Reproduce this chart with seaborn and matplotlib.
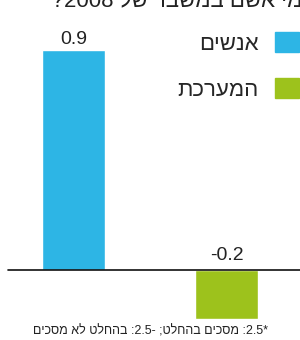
import re

import matplotlib
matplotlib.use("Agg")
import matplotlib.patches as mpatches
import matplotlib.pyplot as plt
import pandas as pd
import seaborn as sns

# data (Hebrew kept in logical order, flipped for display by rtl())
categories = ["אנשים", "המערכת"]
values = [0.9, -0.2]
colors = ["#2db5e5", "#9dc21c"]
title_text = "מי אשם במשבר של 2008?*"
footnote = "*2.5: מסכים בהחלט; -2.5: בהחלט לא מסכים"


def rtl(text: str) -> str:
    # matplotlib has no bidi support: reverse the line, keep numbers readable
    flipped = text[::-1]
    return re.sub(r"[0-9]+(?:\.[0-9]+)?", lambda m: m.group()[::-1], flipped)


def main() -> None:
    sns.set_theme(style="white")
    plt.rcParams["font.family"] = ["Liberation Sans", "DejaVu Sans"]

    labels = [rtl(c) for c in categories]
    df = pd.DataFrame({"group": labels, "value": values})

    fig = plt.figure(figsize=(3.0, 3.4), dpi=100)
    ax = fig.add_axes([0, 0, 1, 1])
    sns.barplot(data=df, x="group", y="value", hue="group", palette=colors,
                width=0.41, legend=False, ax=ax, saturation=1)

    ax.set_xlim(-0.48, 1.48)
    ax.set_ylim(-0.286, 1.105)
    ax.axis("off")
    ax.axhline(0, xmin=8 / 300, xmax=1, color="#111111", lw=1.2)

    for i, v in enumerate(values):
        y, off = (v, 4.5) if v > 0 else (0, 7)
        ax.annotate(f"{v:.1f}", (i, y), xytext=(0, off), textcoords="offset points",
                    ha="center", va="baseline", fontsize=14, color="#222222")

    handles = [mpatches.Patch(color=c, label=l) for c, l in zip(colors, labels)]
    ax.legend(handles=handles, loc="upper right", bbox_to_anchor=(0.997, 0.907),
              frameon=False, markerfirst=False, fontsize=16, borderpad=0,
              handlelength=1.08, handleheight=1.05, handletextpad=0.75,
              labelspacing=1.05, borderaxespad=0)

    fig.text(43 / 300, 1 - 7 / 340, rtl(title_text), ha="left", va="baseline",
             fontsize=16, color="#222222")
    fig.text(0.503, 1 - 335 / 340, rtl(footnote), ha="center", va="baseline",
             fontsize=9, color="#222222")

    fig.savefig("out.png", dpi=100)


if __name__ == "__main__":
    main()
